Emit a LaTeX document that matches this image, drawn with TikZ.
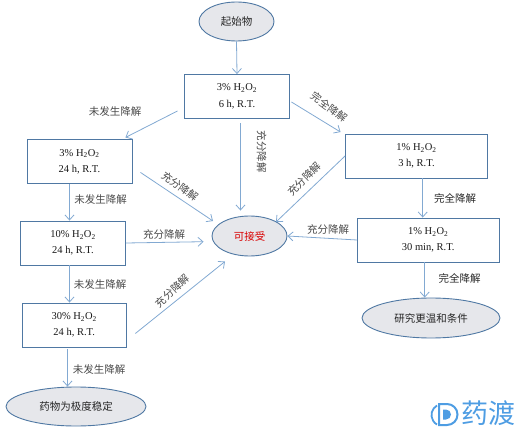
\documentclass[tikz,border=0pt]{standalone}
\usepackage{fontspec}
\setmainfont{Liberation Serif}
\newfontfamily\cjk{Noto Sans CJK SC}
\usetikzlibrary{shapes.geometric,arrows.meta,calc}
\definecolor{edgeblue}{HTML}{4F78A3}
\definecolor{linkblue}{HTML}{82A9D2}
\definecolor{fillgrey}{HTML}{E6E7EB}
\definecolor{labelgrey}{HTML}{4A4A4A}
\definecolor{markblue}{HTML}{4E9DE3}
\tikzset{
  box/.style={draw=edgeblue,line width=0.9pt,fill=white,inner sep=0pt,align=center,
    font=\fontsize{10.5}{16.5}\selectfont,text=black!90},
  oval/.style={ellipse,draw=edgeblue,line width=0.9pt,fill=fillgrey,inner sep=0pt,
    font=\cjk\fontsize{10.5}{12}\selectfont,text=black!85},
  conn/.style={draw=linkblue,line width=0.8pt,-{Straight Barb[length=5pt,width=9pt,line width=0.8pt]}},
  lab/.style={inner sep=0pt,font=\cjk\fontsize{10.5}{12}\selectfont,text=labelgrey},
}
\newcommand{\HHOO}{H\textsubscript{2}O\textsubscript{2}}
\begin{document}
\begin{tikzpicture}[x=1pt,y=-1pt]
\useasboundingbox (0,0) rectangle (516,430);
% ovals
\node[oval,minimum width=75pt,minimum height=39pt] (start) at (236.5,21.5) {起始物};
\node[oval,minimum width=75pt,minimum height=40pt] (ok) at (249.5,236) {\textcolor{red!85!black}{可接受}};
\node[oval,minimum width=140pt,minimum height=39pt] (stable) at (76,406.5) {药物为极度稳定};
\node[oval,minimum width=138pt,minimum height=40pt] (mild) at (431,318) {研究更温和条件};
% boxes
\node[box,minimum width=105pt,minimum height=44pt] (a) at (237,96.5) {3\% \HHOO\\6 h, R.T.};
\node[box,minimum width=105pt,minimum height=44.5pt] (b) at (79.5,161.7) {3\% \HHOO\\24 h, R.T.};
\node[box,minimum width=105pt,minimum height=44pt] (c) at (73,243) {10\% \HHOO\\24 h, R.T.};
\node[box,minimum width=104.5pt,minimum height=44pt] (d) at (74.2,325) {30\% \HHOO\\24 h, R.T.};
\node[box,minimum width=142pt,minimum height=44pt] (e) at (416.5,156) {1\% \HHOO\\3 h, R.T.};
\node[box,minimum width=141.5pt,minimum height=44pt] (f) at (428.2,240) {1\% \HHOO\\30 min, R.T.};
% connectors
\draw[conn] (start.south) -- (a.north);
\draw[conn] ([shift={(3.5,4.5)}]a.south) -- ([shift={(-9,-5)}]ok.north);
\draw[conn] ([shift={(-6.5,-8)}]a.south west) -- ([shift={(-7,-1.5)}]b.north east);
\draw[conn] ([shift={(1.5,5.5)}]a.east) -- ([shift={(-4.5,-1.5)}]e.north west);
\draw[conn] ([shift={(8,-12)}]b.south east) -- ([shift={(-36.5,-15)}]ok.center);
\draw[conn] (e.west) -- ([shift={(26.5,-14)}]ok.center);
\draw[conn] ([xshift=-10]b.south) -- ([xshift=-3.5]c.north);
\draw[conn] (c.east) -- ([shift={(-8,5.7)}]ok.west);
\draw[conn] ([xshift=-3.5]c.south) -- ([xshift=-4.7]d.north);
\draw[conn] ([shift={(8.5,-14)}]d.south east) -- ([shift={(-24.5,25.5)}]ok.center);
\draw[conn] ([shift={(-6.7,2)}]d.south) -- ([xshift=-8.5]stable.north);
\draw[conn] ([xshift=6.2]e.south) -- ([xshift=-5.5]f.north);
\draw[conn] (f.west) -- (ok.east);
\draw[conn] ([xshift=-3.5]f.south) -- ([xshift=-6.3]mild.north);
% labels
\node[lab] (l1) at (115,111.5) {未发生降解};
\node[lab] (l2) at (100.5,200) {未发生降解};
\node[lab] (l3) at (100,284.5) {未发生降解};
\node[lab] (l4) at (99,369.5) {未发生降解};
\node[lab,rotate=-36] (l5) at (180,186.5) {充分降解};
\node[lab,rotate=-90] (l6) at (261.5,152) {充分降解};
\node[lab,rotate=-36] (l7) at (329,107) {完全降解};
\node[lab,rotate=45] (l8) at (304.5,179) {充分降解};
\node[lab] (l9) at (164,235) {充分降解};
\node[lab,rotate=42] (l10) at (172.5,291) {充分降解};
\node[lab] (l11) at (328,230) {充分降解};
\node[lab,text=black!85] (l12) at (455,198) {完全降解};
\node[lab,text=black!85] (l13) at (459.5,278) {完全降解};
% watermark
\node[inner sep=0pt,font=\cjk\fontsize{27}{29}\selectfont,text=markblue] (mark) at (488.5,413.5) {药渡};
\draw[markblue,line width=1.8pt] (445,403.5) ++(-8,2) arc (-120:-240:11);
\draw[markblue,line width=2pt] (439,404) -- (447,404) arc (-90:90:10.5) -- (439,425) -- cycle;
\fill[markblue] (443,409.5) -- (446,409.5) arc (-90:90:5) -- (443,419.5) -- cycle;
\end{tikzpicture}
\end{document}
